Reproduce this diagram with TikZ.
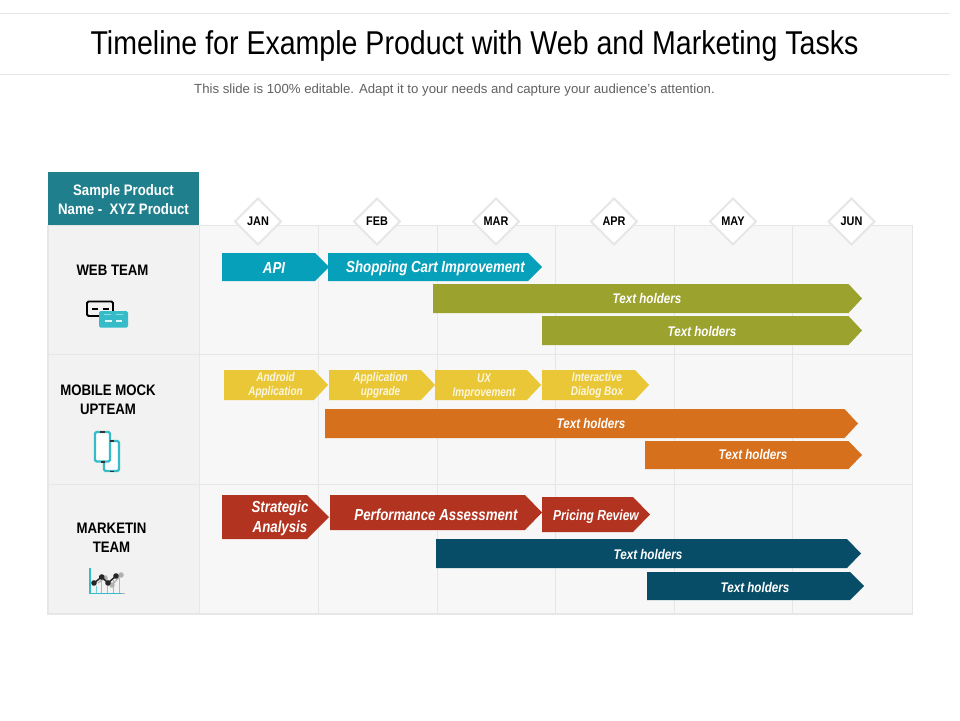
\documentclass[tikz,border=0pt]{standalone}
\usepackage{fontspec}
\setmainfont{Liberation Sans}
\newfontfamily\titlef[FakeStretch=0.865]{Liberation Sans}
\newfontfamily\narrowf[FakeStretch=0.87]{Liberation Sans}
\newfontfamily\narrowerf[FakeStretch=0.83]{Liberation Sans}
\newfontfamily\smallf[FakeStretch=0.87]{Liberation Sans}
\newfontfamily\tinyf[FakeStretch=0.80]{Liberation Sans}
\definecolor{gridc}{HTML}{E6E6E6}
\definecolor{cellc}{HTML}{F7F7F7}
\definecolor{firstc}{HTML}{F2F2F2}
\definecolor{headc}{HTML}{1F7F8C}
\definecolor{bluec}{HTML}{07A0BA}
\definecolor{olivec}{HTML}{9BA22E}
\definecolor{yellowc}{HTML}{E9C736}
\definecolor{orangec}{HTML}{D6701C}
\definecolor{redc}{HTML}{B23420}
\definecolor{navyc}{HTML}{084D68}
\definecolor{tealc}{HTML}{36BCC8}
\tikzset{
  x=1pt,y=-1pt,
  barlabel/.style={text=white,font=\narrowerf\fontsize{#1}{#1}\selectfont\bfseries\itshape,align=center,inner sep=0pt},
  rowlabel/.style={text=black,font=\narrowf\fontsize{15.2}{19}\selectfont\bfseries,align=center,inner sep=0pt},
  monthlabel/.style={text=black,font=\smallf\fontsize{12.5}{13}\selectfont\bfseries,inner sep=0pt},
  gridline/.style={draw=gridc,line width=1.8pt},
  diamondbox/.style={fill=white,draw=gridc,line width=2pt,line join=miter},
  iconline/.style={line width=2.4pt,rounded corners=1.5pt},
  ylabel/.style={text=white,font=\tinyf\fontsize{12.5}{14}\selectfont\bfseries\itshape,align=center,inner sep=0pt,opacity=.85},
}
% name, x1, y1, x2, y2, colour, head length
\newcommand{\arrowbar}[7]{\fill[#6] (#2,#3) -- (#4-#7,#3) -- (#4,{(#3+#5)/2}) -- (#4-#7,#5) -- (#2,#5) -- cycle;}
\newcommand{\monthmark}[3]{%
  \draw[diamondbox] (#2,198.5) -- (#2+23,221.5) -- (#2,244.5) -- (#2-23,221.5) -- cycle;
  \node[monthlabel] (#1) at (#2,221.5) {#3};}
\begin{document}
\begin{tikzpicture}
\useasboundingbox (0,0) rectangle (960,720);
\fill[white] (0,0) rectangle (960,720);
% title rules
\draw[draw=gridc,line width=1pt] (0,13.5) -- (950,13.5);
\draw[draw=gridc,line width=1pt] (0,74.5) -- (950,74.5);
\node[inner sep=0pt,font=\titlef\fontsize{33}{33}\selectfont,text=black] (title) at (474.5,46) {Timeline for Example Product with Web and Marketing Tasks};
\node[inner sep=0pt,font=\fontsize{13.2}{13}\selectfont,text=black!62] (subtitle) at (454.5,90) {This slide is 100\% editable. Adapt it to your needs and capture your audience's attention.};
% grid
\fill[cellc] (48,225) rectangle (912,614);
\fill[firstc] (48,225) rectangle (199,614);
\draw[gridline] (48,225.5) rectangle (912.5,614);
\foreach \vx in {199.5,318.5,437.5,555.5,674.5,792.5} \draw[gridline] (\vx,225) -- (\vx,614);
\foreach \hy in {354.5,484.5} \draw[gridline] (48,\hy) -- (912,\hy);
% header
\fill[headc] (48,172) rectangle (199,225);
\node[text=white,font=\narrowf\fontsize{15.2}{19}\selectfont\bfseries,align=center,inner sep=0pt] (header) at (123.5,200) {Sample Product\\Name -\ \ XYZ Product};
% months
\monthmark{jan}{258}{JAN}
\monthmark{feb}{377}{FEB}
\monthmark{mar}{496}{MAR}
\monthmark{apr}{614}{APR}
\monthmark{may}{733}{MAY}
\monthmark{jun}{851.5}{JUN}
% row labels
\node[rowlabel] (web) at (112.5,270) {WEB TEAM};
\node[rowlabel] (mobile) at (108,399.5) {MOBILE MOCK\\UPTEAM};
\node[rowlabel] (marketing) at (111.5,537.5) {MARKETIN\\TEAM};
% web icon
\draw[black,line width=1.8pt,rounded corners=1.5pt,fill=firstc] (87,301.5) rectangle (113,316);
\fill[black] (92,307.5) rectangle (98,310);
\fill[black] (103,307.5) rectangle (109,310);
\fill[tealc,rounded corners=1.5pt] (99,311) rectangle (128,327.5);
\fill[white!45!tealc] (104,314) rectangle (111,315.2);
\fill[white!45!tealc] (116,314) rectangle (123,315.2);
\fill[white!85!tealc] (105,320) rectangle (112,322);
\fill[white!85!tealc] (116,320) rectangle (122,322);
% phone icon
\draw[tealc,iconline,fill=white] (104,441) rectangle (119,471);
\draw[tealc,iconline,fill=white] (95,432) rectangle (110,461.5);
\fill[black!80] (100,431) rectangle (105,432.5);
\fill[black!80] (110,440.2) rectangle (114,441.7);
\fill[black!80] (100.5,461) rectangle (104.5,462.5);
\fill[black!80] (110,470.5) rectangle (114,472);
% chart icon
\draw[tealc!70,line width=1pt] (96,586) -- (96,593) (101,578) -- (101,593) (107,586) -- (107,593) (113,580) -- (113,593) (119,578) -- (119,593);
\draw[tealc,line width=1.3pt] (90,567.5) -- (90,593.5) -- (122,593.5);
\draw[black!30,line width=0.8pt] (122,593.5) -- (125,593.5);
\draw[black!30,line width=1.3pt] (98,583) -- (105,578) -- (112,585) -- (121,575);
\fill[black!30] (105,578) circle (2.8) (112,585) circle (2.8) (121,575) circle (2.8);
\draw[black!85,line width=1.5pt] (94,583) -- (101.7,577) -- (108,583) -- (116,576);
\fill[black!85] (94,583) circle (2.8) (101.7,577) circle (2.8) (108,583) circle (2.8) (116,576) circle (2.8);
% web bars
\arrowbar{b1}{222}{253}{329}{281}{bluec}{14}
\arrowbar{b2}{328}{253}{542}{281}{bluec}{14}
\arrowbar{b3}{433}{284}{862}{313}{olivec}{13.5}
\arrowbar{b4}{542}{316}{862}{345}{olivec}{13.5}
\node[barlabel=16] (tb1) at (274,268) {API};
\node[barlabel=16] (tb2) at (435.5,268) {Shopping Cart Improvement};
\node[barlabel=14] (tb3) at (647,298.5) {Text holders};
\node[barlabel=14] (tb4) at (702,331.5) {Text holders};
% mobile bars
\arrowbar{c1}{224}{370}{328}{400}{yellowc}{14}
\arrowbar{c2}{329}{370}{435}{400}{yellowc}{14}
\arrowbar{c3}{435}{370}{541}{400}{yellowc}{14}
\arrowbar{c4}{542}{370}{649}{400}{yellowc}{14}
\arrowbar{c5}{325}{409}{858}{438}{orangec}{13.5}
\arrowbar{c6}{645}{441}{862}{469}{orangec}{13.5}
\node[ylabel] (tc1) at (275.5,385.5) {Android\\Application};
\node[ylabel] (tc2) at (380.5,385.5) {Application\\upgrade};
\node[ylabel] (tc3) at (484,386) {UX\\Improvement};
\node[ylabel] (tc4) at (597,385.5) {Interactive\\Dialog Box};
\node[barlabel=14] (tc5) at (591,423.5) {Text holders};
\node[barlabel=14] (tc6) at (753,454.5) {Text holders};
% marketing bars
\arrowbar{d1}{222}{495}{329}{539}{redc}{22}
\arrowbar{d2}{330}{495}{542}{530}{redc}{17}
\arrowbar{d3}{542}{497}{650}{532}{redc}{17}
\arrowbar{d4}{436}{539}{861}{568}{navyc}{14}
\arrowbar{d5}{647}{572}{864}{600}{navyc}{14}
\node[text=white,font=\narrowerf\fontsize{16}{20}\selectfont\bfseries\itshape,align=center,inner sep=0pt] (td1) at (280,518) {Strategic\\Analysis};
\node[barlabel=16] (td2) at (436,514.5) {Performance Assessment};
\node[barlabel=14.5] (td3) at (596,516.5) {Pricing Review};
\node[barlabel=14] (td4) at (648,554.5) {Text holders};
\node[barlabel=14] (td5) at (755,587.5) {Text holders};
\end{tikzpicture}
\end{document}
